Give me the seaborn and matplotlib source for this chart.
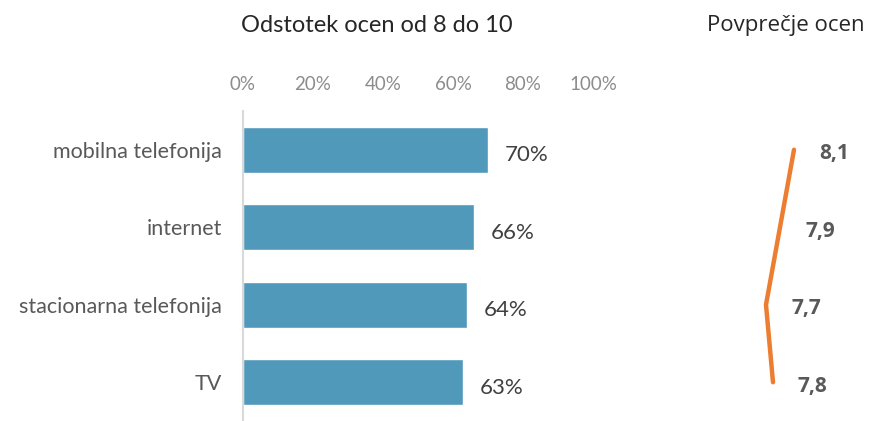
import matplotlib
matplotlib.use("Agg")
import matplotlib.pyplot as plt
import seaborn as sns
import numpy as np

# Podatki
kategorije = ["mobilna telefonija", "internet", "stacionarna telefonija", "TV"]
odstotki = [70, 66, 64, 63]
povprecja = [8.1, 7.9, 7.7, 7.8]
povprecja_oznake = ["8,1", "7,9", "7,7", "7,8"]
tick_vrednosti = [0, 20, 40, 60, 80, 100]
tick_oznake = ["0%", "20%", "40%", "60%", "80%", "100%"]

sns.set_style("white")
plt.rcParams["font.family"] = ["Lato", "DejaVu Sans"]

W, H = 869, 421
fig = plt.figure(figsize=(W / 100, H / 100), dpi=100)

# levi graf - stolpci
ax = fig.add_axes([243 / W, 0, 350 / W, 310 / H])
pozicije = np.arange(len(kategorije))
sns.barplot(x=odstotki, y=kategorije, orient="h", color="#5199bb", width=0.59,
            saturation=1, ax=ax)
ax.set_xlim(0, 100)
ax.set_ylim(3.5, -0.5)
ax.xaxis.tick_top()
ax.set_xticks(tick_vrednosti)
ax.set_xticklabels(tick_oznake, color="#8c8c8c", fontsize=13.5)
ax.set_yticks(pozicije)
ax.set_yticklabels(kategorije, color="#595959", fontsize=15.5)
ax.tick_params(axis="both", length=0)
ax.tick_params(axis="x", pad=13)
ax.tick_params(axis="y", pad=15)
ax.set_xlabel("")
ax.set_ylabel("")
for s in ["top", "right", "bottom"]:
    ax.spines[s].set_visible(False)
ax.spines["left"].set_color("#d9d9d9")
ax.spines["left"].set_linewidth(1.5)
for i, v in enumerate(odstotki):
    ax.annotate(f"{v}%", (v, i), xytext=(12, -4), textcoords="offset points",
                ha="left", va="center", fontsize=16, color="#404040")

fig.text(377 / W, 1 - 25 / H, "Odstotek ocen od 8 do 10", ha="center", va="center",
         fontsize=17, color="#262626")

# desni graf - povprečje
ax2 = fig.add_axes([740 / W, 0, 120 / W, 310 / H])
sns.lineplot(x=povprecja, y=pozicije, sort=False, orient="y", color="#ed7d31",
             linewidth=3.2, ax=ax2)
ax2.set_xlim(7.7 - 26 / 70, 7.7 + 94 / 70)
ax2.set_ylim(3.5, -0.5)
ax2.axis("off")
for i, (v, t) in enumerate(zip(povprecja, povprecja_oznake)):
    ax2.annotate(t, (v, i), xytext=(18, -3), textcoords="offset points",
                 ha="left", va="center", fontsize=15, fontweight="bold",
                 color="#595959", family=["Open Sans", "DejaVu Sans"])

fig.text(786 / W, 1 - 25 / H, "Povprečje ocen", ha="center", va="center",
         fontsize=16, color="#262626", family=["Open Sans", "DejaVu Sans"])

fig.savefig("out.png", dpi=100)
